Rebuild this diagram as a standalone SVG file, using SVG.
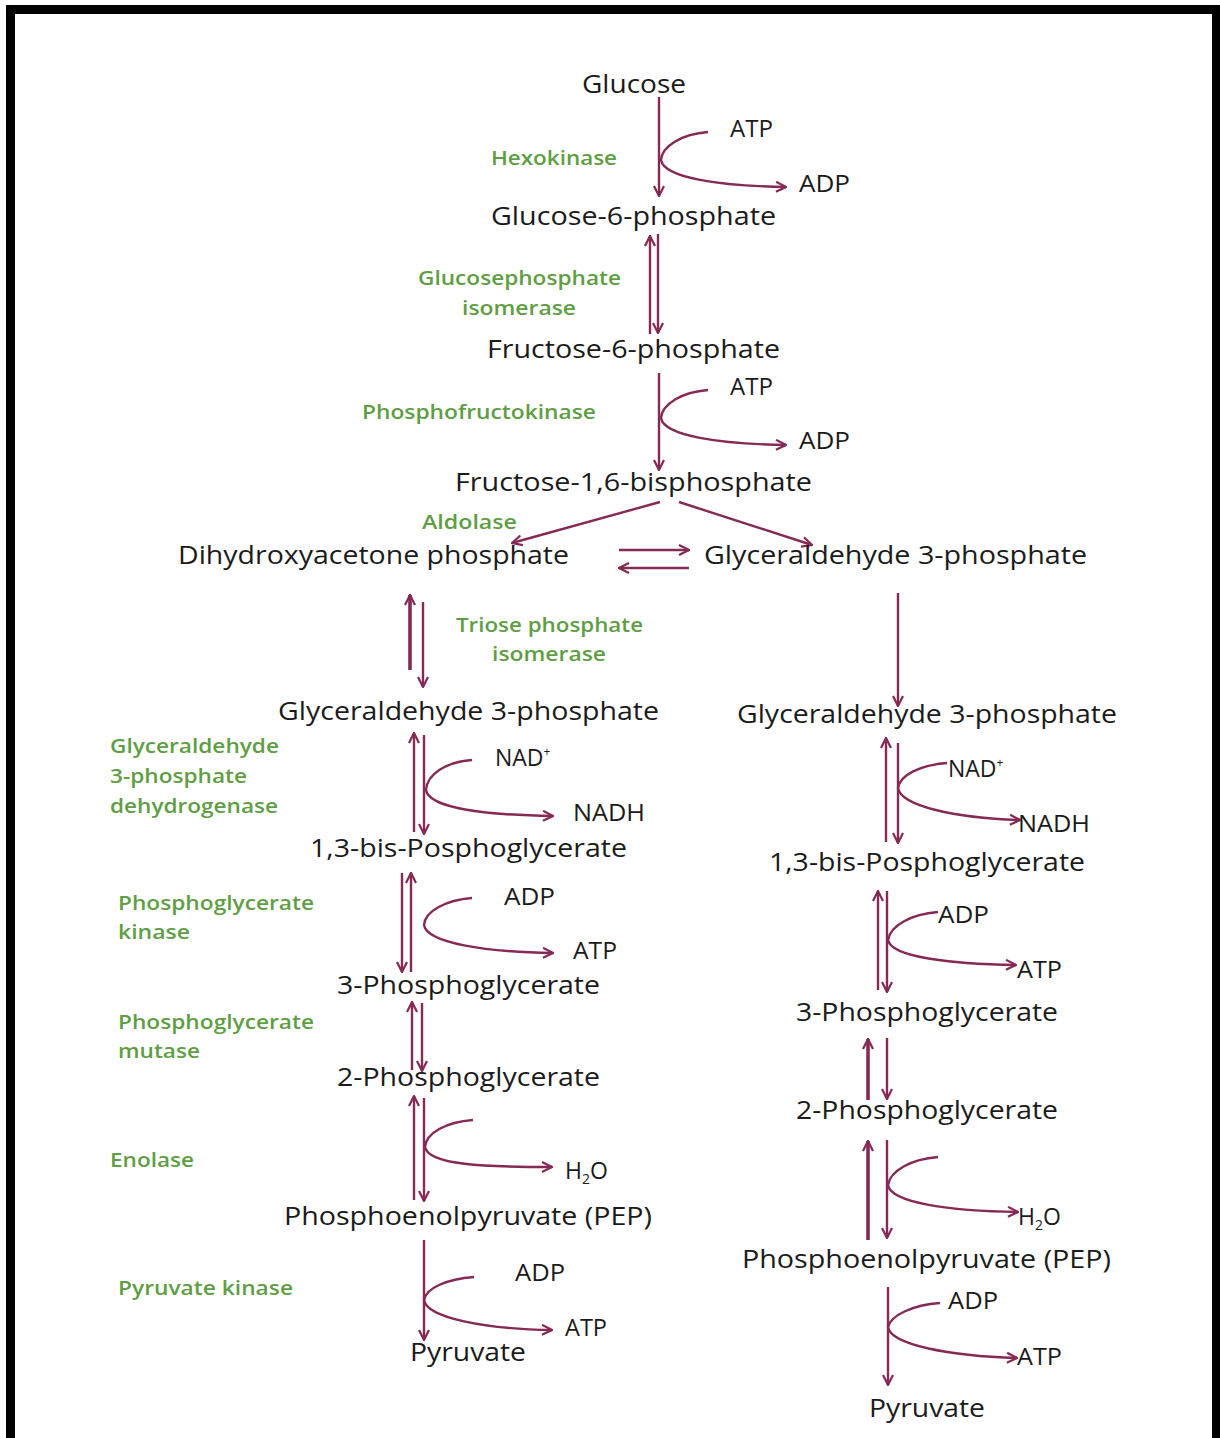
<svg xmlns="http://www.w3.org/2000/svg" width="1220" height="1438" viewBox="0 0 1220 1438">
<style>
.m{font-family:"Open Sans","Liberation Sans",sans-serif;font-size:25px;fill:#1b1b1b}
.s{font-family:"Open Sans","Liberation Sans",sans-serif;font-size:23px;fill:#1b1b1b}
.e{font-family:"Open Sans","Liberation Sans",sans-serif;font-size:19px;font-weight:600;fill:#5f9e45}
.c{fill:none;stroke:#862a55;stroke-width:2.4}
.t{fill:none;stroke:#862a55;stroke-width:3.6}
</style>
<defs>
<marker id="ah" viewBox="0 0 12 12" refX="11" refY="6" markerWidth="12" markerHeight="12" markerUnits="userSpaceOnUse" orient="auto">
<path d="M1,1 L11,6 L1,11" fill="none" stroke="#862a55" stroke-width="2.2"/>
</marker>
</defs>
<rect x="0" y="0" width="1220" height="1438" fill="#ffffff"/>
<rect x="10.5" y="9.5" width="1206" height="1450" fill="none" stroke="#000" stroke-width="9"/>

<g id="connectors">
<!-- top -->
<path class="c" d="M659,97 L659,196" marker-end="url(#ah)"/>
<path class="c" d="M708,132 C682,134 662,146 661,160 C664,178 720,186 786,187" marker-end="url(#ah)"/>
<path class="c" d="M650,334 L650,236" marker-end="url(#ah)"/>
<path class="c" d="M658,234 L658,333" marker-end="url(#ah)"/>
<path class="c" d="M659,373 L659,470" marker-end="url(#ah)"/>
<path class="c" d="M708,390 C682,392 662,404 661,418 C664,436 720,444 786,445" marker-end="url(#ah)"/>
<path class="c" d="M660,502 L512,543" marker-end="url(#ah)"/>
<path class="c" d="M679,502 L812,545" marker-end="url(#ah)"/>
<path class="c" d="M619,550 L689,550" marker-end="url(#ah)"/>
<path class="c" d="M689,568 L619,568" marker-end="url(#ah)"/>
<!-- left column -->
<path class="t" d="M410,670 L410,595" marker-end="url(#ah)"/>
<path class="c" d="M423,602 L423,687" marker-end="url(#ah)"/>
<path class="c" d="M414,832 L414,733" marker-end="url(#ah)"/>
<path class="c" d="M424,735 L424,834" marker-end="url(#ah)"/>
<path class="c" d="M472,760 C446,762 427,774 426,790 C429,808 485,815 553,816" marker-end="url(#ah)"/>
<path class="c" d="M402,873 L402,972" marker-end="url(#ah)"/>
<path class="c" d="M411,972 L411,873" marker-end="url(#ah)"/>
<path class="c" d="M472,898 C446,900 425,911 424,925 C427,943 485,952 553,953" marker-end="url(#ah)"/>
<path class="c" d="M412,1070 L412,1002" marker-end="url(#ah)"/>
<path class="c" d="M422,1003 L422,1071" marker-end="url(#ah)"/>
<path class="c" d="M414,1200 L414,1096" marker-end="url(#ah)"/>
<path class="c" d="M424,1098 L424,1201" marker-end="url(#ah)"/>
<path class="c" d="M473,1120 C446,1122 426,1133 425,1147 C428,1165 485,1167 552,1167" marker-end="url(#ah)"/>
<path class="c" d="M424,1240 L424,1340" marker-end="url(#ah)"/>
<path class="c" d="M474,1277 C447,1279 426,1288 424,1300 C427,1318 485,1329 552,1330" marker-end="url(#ah)"/>
<!-- right column -->
<path class="c" d="M898,593 L898,706" marker-end="url(#ah)"/>
<path class="c" d="M886,842 L886,738" marker-end="url(#ah)"/>
<path class="c" d="M898,743 L898,843" marker-end="url(#ah)"/>
<path class="c" d="M947,763 C920,765 900,775 898,788 C901,806 955,818 1020,820" marker-end="url(#ah)"/>
<path class="c" d="M878,990 L878,891" marker-end="url(#ah)"/>
<path class="c" d="M887,891 L887,992" marker-end="url(#ah)"/>
<path class="c" d="M938,912 C911,914 890,926 888,940 C891,957 950,964 1016,965" marker-end="url(#ah)"/>
<path class="t" d="M868,1100 L868,1039" marker-end="url(#ah)"/>
<path class="c" d="M887,1038 L887,1099" marker-end="url(#ah)"/>
<path class="t" d="M868,1240 L868,1141" marker-end="url(#ah)"/>
<path class="c" d="M887,1140 L887,1238" marker-end="url(#ah)"/>
<path class="c" d="M938,1157 C911,1159 890,1171 888,1185 C891,1203 950,1211 1018,1212" marker-end="url(#ah)"/>
<path class="c" d="M888,1287 L888,1385" marker-end="url(#ah)"/>
<path class="c" d="M940,1303 C913,1305 891,1315 888,1327 C891,1345 950,1356 1017,1358" marker-end="url(#ah)"/>
</g>

<g id="glucose"><text class="m" x="582" y="93" textLength="104" lengthAdjust="spacingAndGlyphs">Glucose</text></g>
<g id="atp1"><text class="s" x="730" y="137" textLength="43" lengthAdjust="spacingAndGlyphs">ATP</text></g>
<g id="adp1"><text class="s" x="799" y="192" textLength="51" lengthAdjust="spacingAndGlyphs">ADP</text></g>
<g id="hexokinase"><text class="e" x="491" y="165" textLength="126" lengthAdjust="spacingAndGlyphs">Hexokinase</text></g>
<g id="g6p"><text class="m" x="491" y="225" textLength="285" lengthAdjust="spacingAndGlyphs">Glucose-6-phosphate</text></g>
<g id="gpi"><text class="e" x="418" y="285" textLength="203" lengthAdjust="spacingAndGlyphs">Glucosephosphate</text><text class="e" x="462" y="315" textLength="114" lengthAdjust="spacingAndGlyphs">isomerase</text></g>
<g id="f6p"><text class="m" x="487" y="358" textLength="293" lengthAdjust="spacingAndGlyphs">Fructose-6-phosphate</text></g>
<g id="atp2"><text class="s" x="730" y="395" textLength="43" lengthAdjust="spacingAndGlyphs">ATP</text></g>
<g id="adp2"><text class="s" x="799" y="449" textLength="51" lengthAdjust="spacingAndGlyphs">ADP</text></g>
<g id="pfk"><text class="e" x="362" y="419" textLength="234" lengthAdjust="spacingAndGlyphs">Phosphofructokinase</text></g>
<g id="f16bp"><text class="m" x="455" y="491" textLength="357" lengthAdjust="spacingAndGlyphs">Fructose-1,6-bisphosphate</text></g>
<g id="aldolase"><text class="e" x="422" y="529" textLength="95" lengthAdjust="spacingAndGlyphs">Aldolase</text></g>
<g id="dhap"><text class="m" x="178" y="564" textLength="391" lengthAdjust="spacingAndGlyphs">Dihydroxyacetone phosphate</text></g>
<g id="gap0"><text class="m" x="704" y="564" textLength="383" lengthAdjust="spacingAndGlyphs">Glyceraldehyde 3-phosphate</text></g>
<g id="tpi"><text class="e" x="456" y="632" textLength="187" lengthAdjust="spacingAndGlyphs">Triose phosphate</text><text class="e" x="492" y="661" textLength="114" lengthAdjust="spacingAndGlyphs">isomerase</text></g>

<g id="gapL"><text class="m" x="278" y="720" textLength="381" lengthAdjust="spacingAndGlyphs">Glyceraldehyde 3-phosphate</text></g>
<g id="gapdh"><text class="e" x="110" y="753" textLength="169" lengthAdjust="spacingAndGlyphs">Glyceraldehyde</text><text class="e" x="110" y="783" textLength="137" lengthAdjust="spacingAndGlyphs">3-phosphate</text><text class="e" x="110" y="813" textLength="168" lengthAdjust="spacingAndGlyphs">dehydrogenase</text></g>
<g id="nadL"><text class="s" x="495" y="766">NAD<tspan font-size="12" dy="-10">+</tspan></text></g>
<g id="nadhL"><text class="s" x="573" y="821" textLength="72" lengthAdjust="spacingAndGlyphs">NADH</text></g>
<g id="bpgL"><text class="m" x="310" y="857" textLength="317" lengthAdjust="spacingAndGlyphs">1,3-bis-Posphoglycerate</text></g>
<g id="pgk"><text class="e" x="118" y="910" textLength="196" lengthAdjust="spacingAndGlyphs">Phosphoglycerate</text><text class="e" x="118" y="939" textLength="72" lengthAdjust="spacingAndGlyphs">kinase</text></g>
<g id="adpL3"><text class="s" x="504" y="905" textLength="51" lengthAdjust="spacingAndGlyphs">ADP</text></g>
<g id="atpL3"><text class="s" x="573" y="959" textLength="44" lengthAdjust="spacingAndGlyphs">ATP</text></g>
<g id="pg3L"><text class="m" x="337" y="994" textLength="263" lengthAdjust="spacingAndGlyphs">3-Phosphoglycerate</text></g>
<g id="pgm"><text class="e" x="118" y="1029" textLength="196" lengthAdjust="spacingAndGlyphs">Phosphoglycerate</text><text class="e" x="118" y="1058" textLength="82" lengthAdjust="spacingAndGlyphs">mutase</text></g>
<g id="pg2L"><text class="m" x="337" y="1086" textLength="263" lengthAdjust="spacingAndGlyphs">2-Phosphoglycerate</text></g>
<g id="enolase"><text class="e" x="110" y="1167" textLength="84" lengthAdjust="spacingAndGlyphs">Enolase</text></g>
<g id="h2oL"><text class="s" x="565" y="1179">H<tspan font-size="14" dy="5">2</tspan><tspan dy="-5">O</tspan></text></g>
<g id="pepL"><text class="m" x="284" y="1225" textLength="368" lengthAdjust="spacingAndGlyphs">Phosphoenolpyruvate (PEP)</text></g>
<g id="pk"><text class="e" x="118" y="1295" textLength="175" lengthAdjust="spacingAndGlyphs">Pyruvate kinase</text></g>
<g id="adpL5"><text class="s" x="515" y="1281" textLength="50" lengthAdjust="spacingAndGlyphs">ADP</text></g>
<g id="atpL5"><text class="s" x="565" y="1336" textLength="42" lengthAdjust="spacingAndGlyphs">ATP</text></g>
<g id="pyrL"><text class="m" x="410" y="1361" textLength="116" lengthAdjust="spacingAndGlyphs">Pyruvate</text></g>

<g id="gapR"><text class="m" x="737" y="723" textLength="380" lengthAdjust="spacingAndGlyphs">Glyceraldehyde 3-phosphate</text></g>
<g id="nadR"><text class="s" x="948" y="777">NAD<tspan font-size="12" dy="-10">+</tspan></text></g>
<g id="nadhR"><text class="s" x="1018" y="832" textLength="72" lengthAdjust="spacingAndGlyphs">NADH</text></g>
<g id="bpgR"><text class="m" x="769" y="871" textLength="316" lengthAdjust="spacingAndGlyphs">1,3-bis-Posphoglycerate</text></g>
<g id="adpR3"><text class="s" x="938" y="923" textLength="51" lengthAdjust="spacingAndGlyphs">ADP</text></g>
<g id="atpR3"><text class="s" x="1017" y="978" textLength="45" lengthAdjust="spacingAndGlyphs">ATP</text></g>
<g id="pg3R"><text class="m" x="796" y="1021" textLength="262" lengthAdjust="spacingAndGlyphs">3-Phosphoglycerate</text></g>
<g id="pg2R"><text class="m" x="796" y="1119" textLength="262" lengthAdjust="spacingAndGlyphs">2-Phosphoglycerate</text></g>
<g id="h2oR"><text class="s" x="1018" y="1225">H<tspan font-size="14" dy="5">2</tspan><tspan dy="-5">O</tspan></text></g>
<g id="pepR"><text class="m" x="742" y="1268" textLength="369" lengthAdjust="spacingAndGlyphs">Phosphoenolpyruvate (PEP)</text></g>
<g id="adpR5"><text class="s" x="948" y="1309" textLength="50" lengthAdjust="spacingAndGlyphs">ADP</text></g>
<g id="atpR5"><text class="s" x="1017" y="1365" textLength="45" lengthAdjust="spacingAndGlyphs">ATP</text></g>
<g id="pyrR"><text class="m" x="869" y="1417" textLength="116" lengthAdjust="spacingAndGlyphs">Pyruvate</text></g>
</svg>
